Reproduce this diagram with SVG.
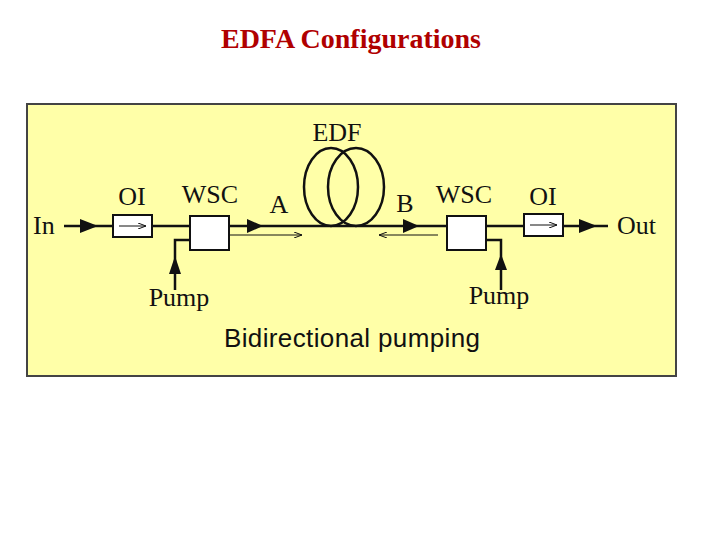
<svg xmlns="http://www.w3.org/2000/svg" width="720" height="540" viewBox="0 0 720 540">
<defs>
<style>
.s{font-family:"Liberation Serif",serif;font-size:26px;fill:#111}
.ln{stroke:#111;stroke-width:2.5;fill:none}
.th{stroke:#111;stroke-width:1;fill:none}
.bx{fill:#fff;stroke:#111;stroke-width:2}
</style>
<marker id="t" markerWidth="8" markerHeight="6" refX="8" refY="3" orient="auto" markerUnits="userSpaceOnUse"><path d="M0,0 L8,3 L0,6" fill="none" stroke="#111" stroke-width="1"/></marker>
</defs>
<rect width="720" height="540" fill="#fff"/>
<text x="351" y="48" text-anchor="middle" font-family="Liberation Serif,serif" font-weight="bold" font-size="28" fill="#b00000">EDFA Configurations</text>
<rect id="panel" x="27" y="104" width="649" height="272" fill="#ffffa8" stroke="#444" stroke-width="2"/>
<g id="connectors">
<path class="ln" d="M64,226 H113 M152,226 H190 M229,226 H447 M486,226 H524 M563,226 H608"/>
<path class="ln" d="M175,290 V240 H190 M501,290 V240 H486"/>
<path d="M80,219 L98,226 L80,233Z M247,219 L263,226 L247,233Z M403,219 L419,226 L403,233Z M579,219 L597,226 L579,233Z M169,274 L175,256 L181,274Z M495,270 L501,254 L507,270Z" fill="#111"/>
<path class="th" d="M229,235 H302" marker-end="url(#t)"/>
<path class="th" d="M438,235 H379" marker-end="url(#t)"/>
</g>
<g id="oi1"><rect class="bx" x="113" y="215" width="39" height="22"/><path class="th" d="M119,226 H146" marker-end="url(#t)"/><text class="s" x="132" y="205" text-anchor="middle">OI</text></g>
<g id="wsc1"><rect class="bx" x="190" y="216" width="39" height="34"/><text class="s" x="210" y="203" text-anchor="middle">WSC</text></g>
<g id="edf"><ellipse class="ln" cx="331" cy="187" rx="27" ry="39"/><ellipse class="ln" cx="356" cy="187" rx="28" ry="39"/><text class="s" x="337" y="141" text-anchor="middle">EDF</text></g>
<g id="wsc2"><rect class="bx" x="447" y="216" width="39" height="34"/><text class="s" x="464" y="203" text-anchor="middle">WSC</text></g>
<g id="oi2"><rect class="bx" x="524" y="214" width="39" height="22"/><path class="th" d="M530,225 H557" marker-end="url(#t)"/><text class="s" x="543" y="205" text-anchor="middle">OI</text></g>
<g id="labels">
<text class="s" x="33" y="234">In</text>
<text class="s" x="617" y="234">Out</text>
<text class="s" x="279" y="213" text-anchor="middle">A</text>
<text class="s" x="405" y="212" text-anchor="middle">B</text>
<text class="s" x="179" y="306" text-anchor="middle">Pump</text>
<text class="s" x="499" y="304" text-anchor="middle">Pump</text>
<text x="224" y="347" font-family="Liberation Sans,sans-serif" font-size="26" fill="#111" textLength="256">Bidirectional pumping</text>
</g>
</svg>
